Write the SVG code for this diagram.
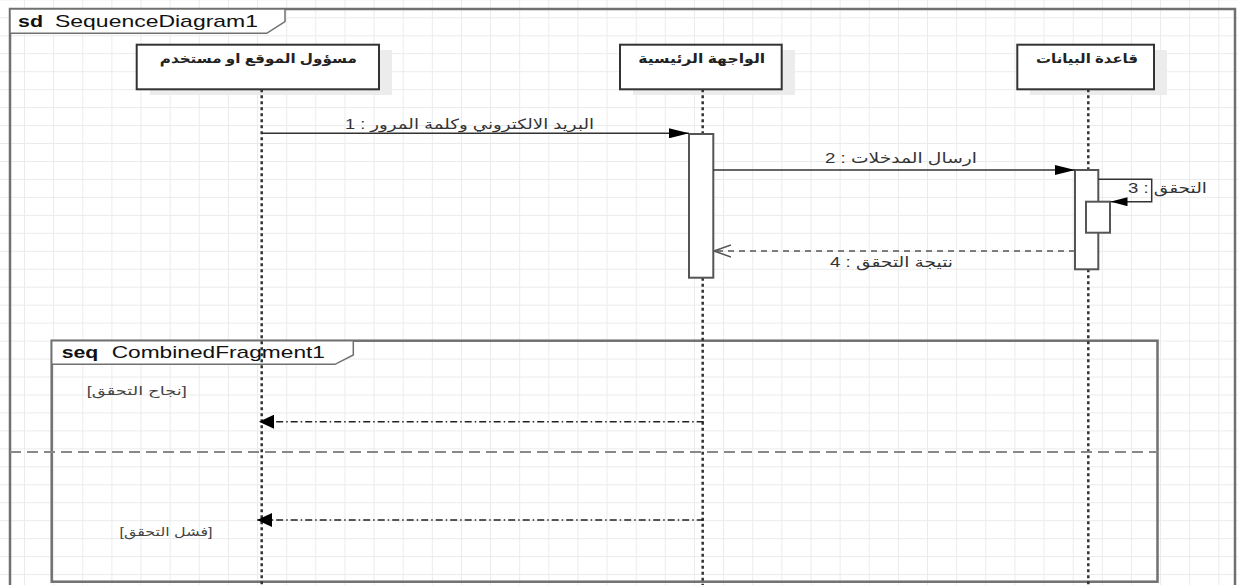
<svg xmlns="http://www.w3.org/2000/svg" width="1238" height="585" viewBox="0 0 1238 585">
<style>
text{font-family:"Liberation Sans","DejaVu Sans",sans-serif}
.frame{fill:none;stroke:#707070;stroke-width:2.5}
.tab{fill:#fff;stroke:#707070;stroke-width:1.5}
.ttl{font-size:17px;fill:#111}
.b{font-weight:bold}
.box{fill:#fff;stroke:#333;stroke-width:2}
.shadow{fill:#ececec}
.head{font-size:13px;font-weight:bold;fill:#222}
.life{stroke:#333;stroke-width:2.5;stroke-dasharray:3 3;fill:none}
.act{fill:#fff;stroke:#555;stroke-width:2}
.msg{stroke:#333;stroke-width:1.5;fill:none}
.ret{stroke:#555;stroke-width:1.5;stroke-dasharray:6 5;fill:none}
.dd{stroke:#222;stroke-width:1.5;stroke-dasharray:7 3 1.5 3;fill:none}
.sep{stroke:#888;stroke-width:1.8;stroke-dasharray:11 6;fill:none}
.lbl{font-size:14px;fill:#333}
.guard{font-size:12px;fill:#444}
</style>
<defs>
<pattern id="grid" x="24" y="17.3" width="29.13" height="17.96" patternUnits="userSpaceOnUse">
<path d="M0 0V17.96M0 0H29.13" stroke="#ebebeb" stroke-width="2" fill="none"/>
</pattern>
<marker id="fill" markerUnits="userSpaceOnUse" viewBox="0 0 20 10" refX="20" refY="5" markerWidth="20" markerHeight="10" orient="auto">
<path d="M0 0L20 5L0 10z" fill="#000"/>
</marker>
<marker id="fillS" markerUnits="userSpaceOnUse" viewBox="0 0 17 9" refX="17" refY="4.5" markerWidth="17" markerHeight="9" orient="auto">
<path d="M0 0L17 4.5L0 9z" fill="#000"/>
</marker>
<marker id="fillB" markerUnits="userSpaceOnUse" viewBox="0 0 15 14" refX="15" refY="7" markerWidth="15" markerHeight="14" orient="auto">
<path d="M0 0L15 7L0 14z" fill="#000"/>
</marker>
<marker id="open" markerUnits="userSpaceOnUse" viewBox="0 0 18 14" refX="17" refY="7" markerWidth="18" markerHeight="14" orient="auto">
<path d="M0 1L17 7L0 13" fill="none" stroke="#555" stroke-width="1.5"/>
</marker>
</defs>
<rect x="0" y="0" width="1238" height="585" fill="#fff"/>
<rect x="0" y="0" width="1238" height="585" fill="url(#grid)"/>

<g id="frame">
<rect class="frame" x="10" y="9" width="1225" height="600"/>
<path class="tab" d="M10 9H285V21.7L266.7 33.3H10z"/>
<text class="ttl b" x="18" y="27" textLength="25" lengthAdjust="spacingAndGlyphs">sd</text>
<text class="ttl" x="55" y="27" textLength="203" lengthAdjust="spacingAndGlyphs">SequenceDiagram1</text>
</g>

<g id="fragment">
<rect class="frame" x="51.7" y="340.7" width="1105.8" height="241"/>
<path class="tab" d="M51.7 340.7H353.3V355L335 364.3H51.7z"/>
<text class="ttl b" x="61.7" y="357.5" textLength="36.6" lengthAdjust="spacingAndGlyphs">seq</text>
<text class="ttl" x="111.7" y="357.5" textLength="213.3" lengthAdjust="spacingAndGlyphs">CombinedFragment1</text>
<text class="guard" x="136.7" y="395" text-anchor="middle" textLength="100" lengthAdjust="spacingAndGlyphs">[نجاح التحقق]</text>
<text class="guard" x="166" y="536" text-anchor="middle" textLength="93" lengthAdjust="spacingAndGlyphs">[فشل التحقق]</text>
</g>

<g id="lifeline-user">
<rect class="shadow" x="150" y="50" width="242" height="45"/>
<rect class="box" x="136.7" y="44.7" width="242.3" height="44.6"/>
<text class="head" x="258.3" y="63" text-anchor="middle" textLength="197" lengthAdjust="spacingAndGlyphs">مسؤول الموقع او مستخدم</text>
<line class="life" x1="261.7" y1="89.3" x2="261.7" y2="585"/>
</g>

<g id="lifeline-ui">
<rect class="shadow" x="633" y="50" width="162" height="45"/>
<rect class="box" x="620" y="44.7" width="161.7" height="44.6"/>
<text class="head" x="701.7" y="63" text-anchor="middle" textLength="127" lengthAdjust="spacingAndGlyphs">الواجهة الرئيسية</text>
<line class="life" x1="702.7" y1="89.3" x2="702.7" y2="134"/>
<line class="life" x1="702.7" y1="277.7" x2="702.7" y2="585"/>
<rect class="act" x="689" y="134" width="24.3" height="143.7"/>
</g>

<g id="lifeline-db">
<rect class="shadow" x="1030" y="50" width="137" height="45"/>
<rect class="box" x="1017.3" y="44.7" width="136.7" height="44.6"/>
<text class="head" x="1087" y="63" text-anchor="middle" textLength="102" lengthAdjust="spacingAndGlyphs">قاعدة البيانات</text>
<line class="life" x1="1088.3" y1="89.3" x2="1088.3" y2="170"/>
<line class="life" x1="1088.3" y1="269.3" x2="1088.3" y2="585"/>
<rect class="act" x="1075" y="170" width="23.3" height="99.3"/>
<rect class="act" x="1086" y="201.7" width="24" height="31"/>
</g>

<g id="connectors">
<line class="msg" x1="262" y1="133.3" x2="689" y2="133.3" marker-end="url(#fill)"/>
<text class="lbl" x="469.5" y="129" text-anchor="middle" textLength="249" lengthAdjust="spacingAndGlyphs">البريد الالكتروني وكلمة المرور : 1</text>
<line class="msg" x1="713.3" y1="170" x2="1075" y2="170" marker-end="url(#fill)"/>
<text class="lbl" x="901" y="163" text-anchor="middle" textLength="152" lengthAdjust="spacingAndGlyphs">ارسال المدخلات : 2</text>
<path class="msg" d="M1098.3 179.3H1151.7V201.7H1110.5" marker-end="url(#fillS)"/>
<text class="lbl" x="1167.5" y="193" text-anchor="middle" textLength="79" lengthAdjust="spacingAndGlyphs">التحقق : 3</text>
<line class="ret" x1="1075" y1="251" x2="714" y2="251" marker-end="url(#open)"/>
<text class="lbl" x="891.5" y="267" text-anchor="middle" textLength="123" lengthAdjust="spacingAndGlyphs">نتيجة التحقق : 4</text>
<line class="dd" x1="703.7" y1="421.7" x2="259" y2="421.7" marker-end="url(#fillB)"/>
<line class="dd" x1="703.7" y1="520" x2="257" y2="520" marker-end="url(#fillB)"/>
<line class="sep" x1="10" y1="452" x2="1157.5" y2="452"/>
</g>
</svg>
